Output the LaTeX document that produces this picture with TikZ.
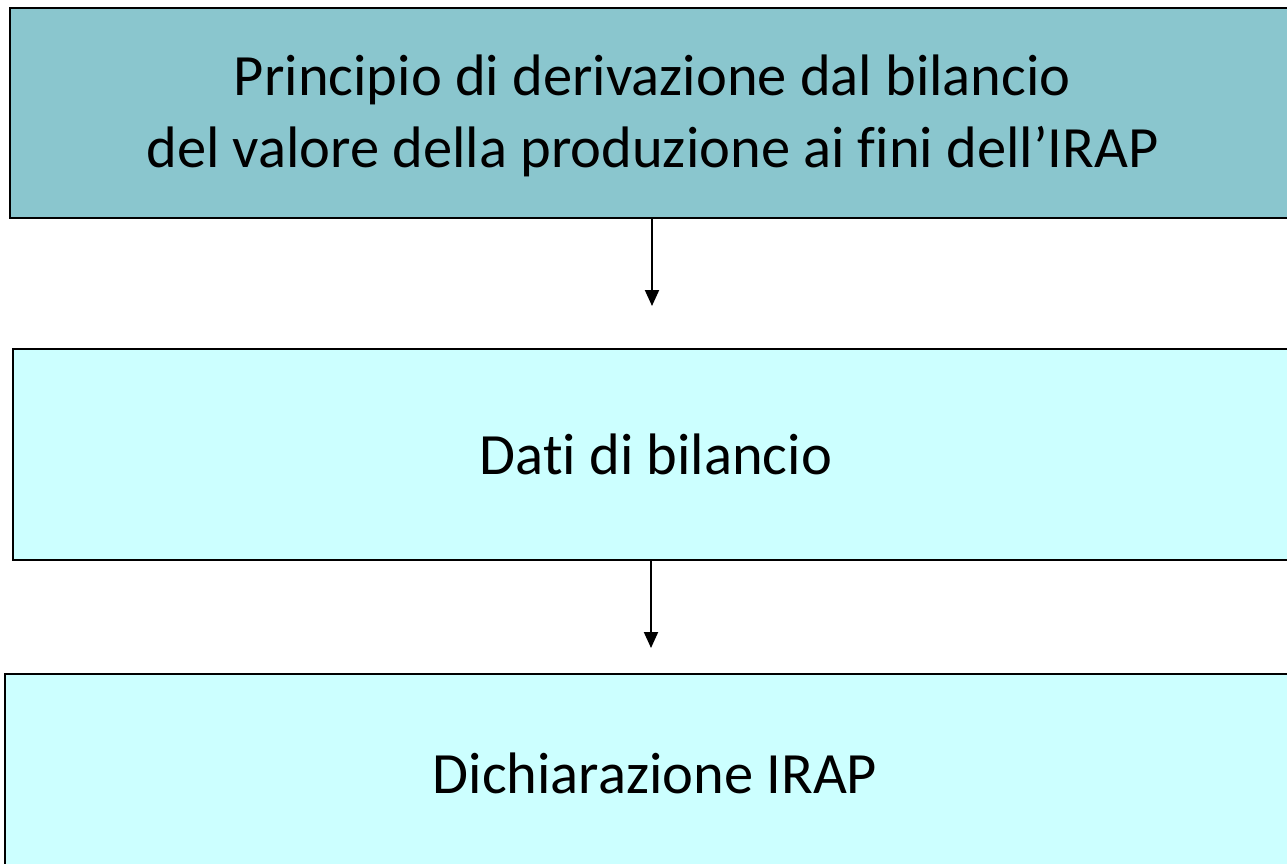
\documentclass[tikz,border=0pt]{standalone}
\usepackage{fontspec}
\setmainfont[Ligatures={NoCommon,NoContextual}]{Carlito}
\usetikzlibrary{arrows.meta}
\definecolor{topfill}{HTML}{8AC6CE}
\definecolor{boxfill}{HTML}{CCFFFF}
\tikzset{
  box/.style={draw=black, line width=2.5pt, rectangle, inner sep=0pt,
    font=\fontsize{58.5}{72}\selectfont, align=center, text=black},
  arr/.style={line width=2pt, -{Triangle[length=16pt,width=14pt]}}
}
\begin{document}
\begin{tikzpicture}[x=1pt,y=-1pt]
\useasboundingbox (0,0) rectangle (1287,864);
\clip (0,0) rectangle (1287,864);
\node[box, fill=topfill, minimum width=1285pt, minimum height=210pt] (top) at (652.5,113) {};
\node[font=\fontsize{58.5}{72}\selectfont, align=center, inner sep=0pt] (toptext) at (652.5,116)
  {Principio di derivazione dal bilancio\\del valore della produzione ai fini dell’IRAP};
\node[box, fill=boxfill, minimum width=1286pt, minimum height=211pt] (mid) at (656,454.5)
  {Dati di bilancio};
\node[box, fill=boxfill, minimum width=1300pt, minimum height=198pt] (bot) at (655,773)
  {Dichiarazione IRAP};
\coordinate (a1) at (652,306);
\coordinate (a2) at (651,648);
\draw[arr] (a1 |- top.south) -- (a1);
\draw[arr] (a2 |- mid.south) -- (a2);
\end{tikzpicture}
\end{document}
